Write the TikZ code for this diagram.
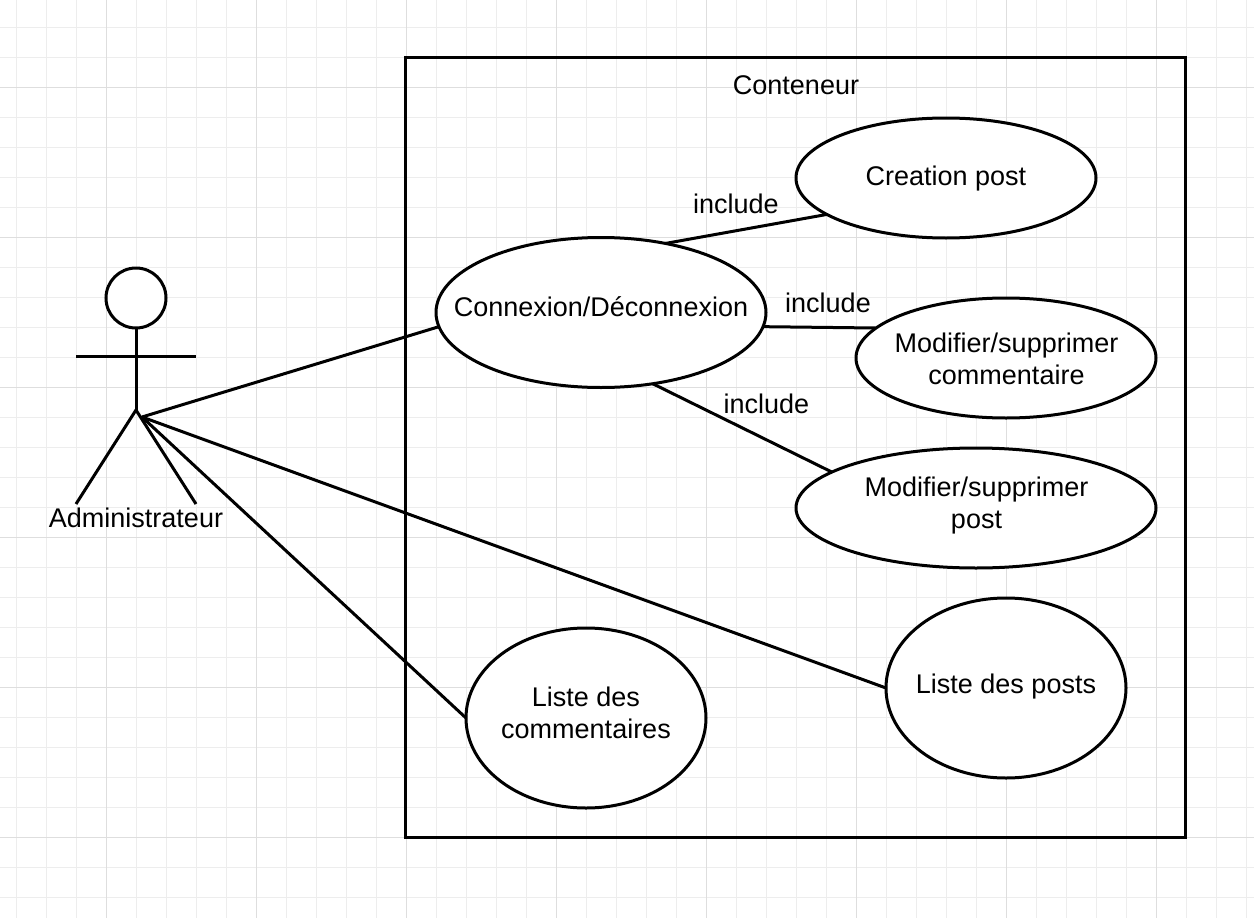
\documentclass[tikz,border=0pt]{standalone}
\usepackage{fontspec}
\setmainfont{Liberation Sans}
\usetikzlibrary{shapes.geometric}
\tikzset{
  x=1pt,y=-1pt,
  stroke/.style={draw=black,line width=3pt},
  uc/.style={stroke,ellipse,inner sep=0pt,outer sep=0pt,fill=white},
  txt/.style={font=\fontsize{27}{32}\selectfont,align=center,inner sep=0pt},
}
\begin{document}
\begin{tikzpicture}
\useasboundingbox (0,0) rectangle (1254,918);
\fill[white] (0,0) rectangle (1254,918);
% grid
\foreach \i in {0,...,41}{
  \pgfmathsetmacro{\gx}{16.5+30*\i}
  \draw[line width=1pt,draw=black!7] (\gx,0) -- (\gx,918);
}
\foreach \i in {0,...,30}{
  \pgfmathsetmacro{\gy}{27.5+30*\i}
  \draw[line width=1pt,draw=black!7] (0,\gy) -- (1254,\gy);
}
\foreach \i in {0,...,7}{
  \pgfmathsetmacro{\gx}{106.5+150*\i}
  \draw[line width=1pt,draw=black!13] (\gx,0) -- (\gx,918);
}
\foreach \i in {0,...,5}{
  \pgfmathsetmacro{\gy}{87.5+150*\i}
  \draw[line width=1pt,draw=black!13] (0,\gy) -- (1254,\gy);
}
% container
\node[stroke,rectangle,inner sep=0pt,outer sep=0pt,minimum width=780pt,minimum height=780pt] (box) at (795.85,447.85) {};
\node[txt] (boxt) at (796,85) {Conteneur};
% actor
\node[stroke,circle,inner sep=0pt,outer sep=0pt,minimum size=60pt,fill=white] (head) at (136,298) {};
\coordinate (hip) at (136,410);
\coordinate (armL) at (76,356);
\coordinate (armR) at (196,356);
\coordinate (footL) at (76,504);
\coordinate (footR) at (196,504);
\coordinate (hub) at (142,417);
\draw[stroke] (head.south) -- (hip);
\draw[stroke] (armL) -- (armR);
\draw[stroke,line join=miter] (footL) -- (hip) -- (footR);
\node[txt] (admin) at (136,518) {Administrateur};
% use cases
\node[uc,minimum width=330pt,minimum height=150pt] (conn) at (601,312.5) {};
\node[uc,minimum width=300pt,minimum height=120pt] (crea) at (946,178) {};
\node[uc,minimum width=300pt,minimum height=120pt] (modc) at (1006,358) {};
\node[uc,minimum width=360pt,minimum height=120pt] (modp) at (976,508) {};
\node[uc,minimum width=240pt,minimum height=180pt] (lisp) at (1006,688) {};
\node[uc,minimum width=240pt,minimum height=180pt] (lisc) at (586,718) {};
\node[txt] at (601,307) {Connexion/Déconnexion};
\node[txt] at (946,179) {Creation post};
\node[txt] at (1006.5,359) {Modifier/supprimer\\commentaire};
\node[txt] at (976.5,506) {Modifier/supprimer\\post};
\node[txt] at (1006,687) {Liste des posts};
\node[txt] at (586,713) {Liste des\\commentaires};
% connectors
\draw[stroke] (hub) -- (conn.185.4);
\draw[stroke] (hub) -- (lisp.west);
\draw[stroke] (hub) -- (lisc.west);
\draw[stroke] (conn.47.8) -- (crea.197);
\draw[stroke] (conn.-5.75) -- (modc.167);
\draw[stroke] (conn.-54) -- (modp.166.6);
\node[txt] at (736,204) {include};
\node[txt] at (828,303) {include};
\node[txt] at (766.5,404) {include};
\end{tikzpicture}
\end{document}
